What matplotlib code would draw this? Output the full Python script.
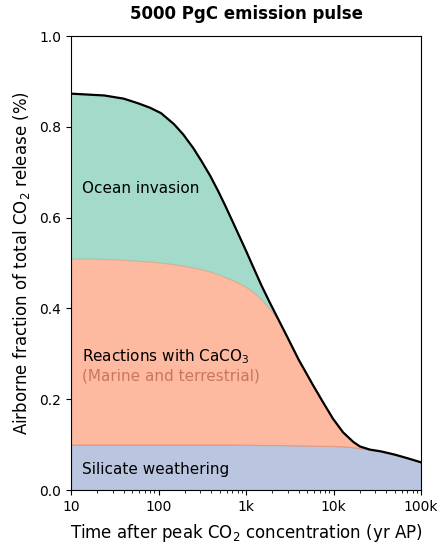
import numpy as np
import matplotlib
matplotlib.use("Agg")
import matplotlib.pyplot as plt
from matplotlib.ticker import FixedLocator, FixedFormatter, LogLocator, NullFormatter

# Time after peak CO2 (years)
years = [10, 24, 40, 58, 80, 107, 150, 192, 250, 311, 390, 482, 590, 748, 1000,
         1210, 1420, 1524, 1880, 2367, 3000, 4000, 5830, 7500, 9860, 12860,
         16800, 20000, 26000, 35000, 50000, 70000, 100000]

# Total airborne fraction remaining
total_fraction = [0.873, 0.869, 0.862, 0.852, 0.842, 0.830, 0.806, 0.783, 0.753,
                  0.724, 0.692, 0.658, 0.623, 0.580, 0.527, 0.491, 0.461, 0.448,
                  0.412, 0.374, 0.335, 0.287, 0.231, 0.195, 0.157, 0.127, 0.106,
                  0.096, 0.089, 0.085, 0.078, 0.070, 0.061]

# Upper edge of the CaCO3 reaction layer
caco3_top = [0.510, 0.509, 0.507, 0.505, 0.503, 0.501, 0.497, 0.494, 0.490,
             0.486, 0.481, 0.475, 0.468, 0.460, 0.447, 0.436, 0.424, 0.418,
             0.398, 0.374, 0.335, 0.287, 0.231, 0.195, 0.157, 0.127, 0.106,
             0.096, 0.089, 0.085, 0.078, 0.070, 0.061]

# Upper edge of the silicate weathering layer
silicate_top = [0.100, 0.100, 0.100, 0.100, 0.100, 0.100, 0.100, 0.100, 0.100,
                0.100, 0.100, 0.100, 0.100, 0.100, 0.0995, 0.0995, 0.099, 0.099,
                0.099, 0.099, 0.0985, 0.098, 0.0975, 0.097, 0.097, 0.096, 0.094,
                0.092, 0.089, 0.085, 0.078, 0.070, 0.061]

x_ticks = [10, 100, 1000, 10000, 100000]
x_ticklabels = ["10", "100", "1k", "10k", "100k"]
y_ticks = [0.0, 0.2, 0.4, 0.6, 0.8, 1.0]

green = "#66c2a5"
orange = "#fc8d62"
blue = "#8da0cb"

fig = plt.figure(figsize=(4.47, 5.43), dpi=100)
ax = fig.add_axes([71 / 447, 1 - 490 / 543, 350 / 447, 454 / 543])

ax.fill_between(years, 0, silicate_top, color=blue, alpha=0.6, lw=0.8)
ax.fill_between(years, silicate_top, caco3_top, color=orange, alpha=0.6, lw=0.8)
ax.fill_between(years, caco3_top, total_fraction, color=green, alpha=0.6, lw=0)
ax.plot(years, total_fraction, color="black", lw=1.6, solid_joinstyle="round")

ax.set_xscale("log")
ax.set_xlim(10, 100000)
ax.set_ylim(0, 1.0)
ax.xaxis.set_major_locator(FixedLocator(x_ticks))
ax.xaxis.set_major_formatter(FixedFormatter(x_ticklabels))
ax.xaxis.set_minor_locator(LogLocator(base=10, subs=np.arange(2, 10)))
ax.xaxis.set_minor_formatter(NullFormatter())
ax.set_yticks(y_ticks)
ax.tick_params(labelsize=10)

ax.set_title("5000 PgC emission pulse", fontsize=12, fontweight="bold", pad=12)
ax.set_xlabel("Time after peak CO$_2$ concentration (yr AP)", fontsize=12, labelpad=6)
ax.set_ylabel("Airborne fraction of total CO$_2$ release (%)", fontsize=12, labelpad=5)

ax.text(13.3, 0.663, "Ocean invasion", fontsize=11, va="center", ha="left")
ax.text(13.3, 0.293, "Reactions with CaCO$_3$", fontsize=11, va="center", ha="left")
ax.text(13.3, 0.251, "(Marine and terrestrial)", fontsize=11, va="center", ha="left",
        color="#c8785a")
ax.text(13.3, 0.046, "Silicate weathering", fontsize=11, va="center", ha="left")

fig.savefig("out.png", dpi=100)
